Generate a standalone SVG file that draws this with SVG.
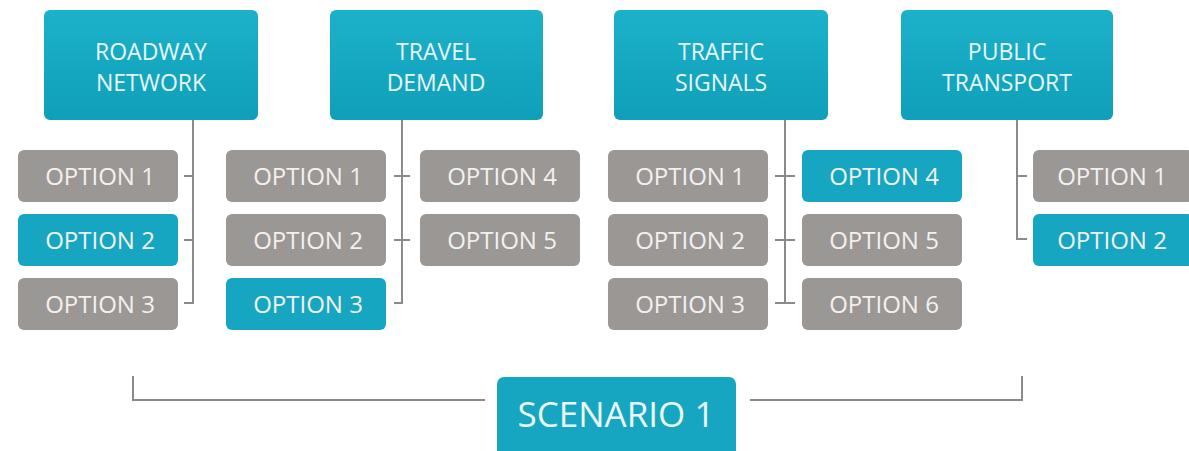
<svg xmlns="http://www.w3.org/2000/svg" width="1189" height="451" viewBox="0 0 1189 451">
<defs>
<linearGradient id="tealG" x1="0" y1="0" x2="0" y2="1">
<stop offset="0" stop-color="#1cb1ca"/>
<stop offset="1" stop-color="#0f9fb9"/>
</linearGradient>
<style>
.hdr{fill:url(#tealG);}
.teal{fill:#17a6c1;}
.gray{fill:#9b9795;}
.ht{font-family:"Open Sans","Liberation Sans",sans-serif;font-size:23px;fill:#e9f7fa;text-anchor:middle;}
.ot{font-family:"Open Sans","Liberation Sans",sans-serif;font-size:24px;fill:#f3f1ef;text-anchor:middle;}
.st{font-family:"Open Sans","Liberation Sans",sans-serif;font-size:35px;fill:#eaf8fb;text-anchor:middle;}
.ln{fill:none;stroke:#8c8a89;stroke-width:2;}
</style>
</defs>
<rect width="1189" height="451" fill="#ffffff"/>
<g id="connectors">
<path class="ln" d="M193 120 V303 H184 M184 176 H193 M184 240 H193"/>
<path class="ln" d="M402 120 V303 H394 M394 176 H410 M394 240 H410"/>
<path class="ln" d="M785 120 V303 M775 176 H795 M775 240 H795 M775 303 H795"/>
<path class="ln" d="M1017 120 V239 H1027 M1017 176 H1027"/>
<path class="ln" d="M133 376 V400 H485 M750 400 H1022 V376"/>
</g>
<g id="roadway-network">
<rect class="hdr" x="44" y="10" width="214" height="110" rx="6"/>
<text class="ht" x="151" y="60">ROADWAY</text>
<text class="ht" x="151" y="91">NETWORK</text>
</g>
<g id="rn-option1"><rect class="gray" x="18" y="150" width="160" height="52" rx="6"/><text class="ot" x="100" y="185">OPTION 1</text></g>
<g id="rn-option2"><rect class="teal" x="18" y="214" width="160" height="52" rx="6"/><text class="ot" x="100" y="249">OPTION 2</text></g>
<g id="rn-option3"><rect class="gray" x="18" y="278" width="160" height="52" rx="6"/><text class="ot" x="100" y="313">OPTION 3</text></g>
<g id="travel-demand">
<rect class="hdr" x="330" y="10" width="213" height="110" rx="6"/>
<text class="ht" x="436" y="60">TRAVEL</text>
<text class="ht" x="436" y="91">DEMAND</text>
</g>
<g id="td-option1"><rect class="gray" x="226" y="150" width="160" height="52" rx="6"/><text class="ot" x="308" y="185">OPTION 1</text></g>
<g id="td-option2"><rect class="gray" x="226" y="214" width="160" height="52" rx="6"/><text class="ot" x="308" y="249">OPTION 2</text></g>
<g id="td-option3"><rect class="teal" x="226" y="278" width="160" height="52" rx="6"/><text class="ot" x="308" y="313">OPTION 3</text></g>
<g id="td-option4"><rect class="gray" x="420" y="150" width="160" height="52" rx="6"/><text class="ot" x="502" y="185">OPTION 4</text></g>
<g id="td-option5"><rect class="gray" x="420" y="214" width="160" height="52" rx="6"/><text class="ot" x="502" y="249">OPTION 5</text></g>
<g id="traffic-signals">
<rect class="hdr" x="614" y="10" width="214" height="110" rx="6"/>
<text class="ht" x="721" y="60">TRAFFIC</text>
<text class="ht" x="721" y="91">SIGNALS</text>
</g>
<g id="ts-option1"><rect class="gray" x="608" y="150" width="160" height="52" rx="6"/><text class="ot" x="690" y="185">OPTION 1</text></g>
<g id="ts-option2"><rect class="gray" x="608" y="214" width="160" height="52" rx="6"/><text class="ot" x="690" y="249">OPTION 2</text></g>
<g id="ts-option3"><rect class="gray" x="608" y="278" width="160" height="52" rx="6"/><text class="ot" x="690" y="313">OPTION 3</text></g>
<g id="ts-option4"><rect class="teal" x="802" y="150" width="160" height="52" rx="6"/><text class="ot" x="884" y="185">OPTION 4</text></g>
<g id="ts-option5"><rect class="gray" x="802" y="214" width="160" height="52" rx="6"/><text class="ot" x="884" y="249">OPTION 5</text></g>
<g id="ts-option6"><rect class="gray" x="802" y="278" width="160" height="52" rx="6"/><text class="ot" x="884" y="313">OPTION 6</text></g>
<g id="public-transport">
<rect class="hdr" x="901" y="10" width="212" height="110" rx="6"/>
<text class="ht" x="1007" y="60">PUBLIC</text>
<text class="ht" x="1007" y="91">TRANSPORT</text>
</g>
<g id="pt-option1"><rect class="gray" x="1033" y="150" width="160" height="52" rx="6"/><text class="ot" x="1112" y="185">OPTION 1</text></g>
<g id="pt-option2"><rect class="teal" x="1033" y="214" width="160" height="52" rx="6"/><text class="ot" x="1112" y="249">OPTION 2</text></g>
<g id="scenario-1">
<rect class="teal" x="497" y="377" width="239" height="80" rx="7"/>
<text class="st" x="616" y="427">SCENARIO 1</text>
</g>
</svg>
